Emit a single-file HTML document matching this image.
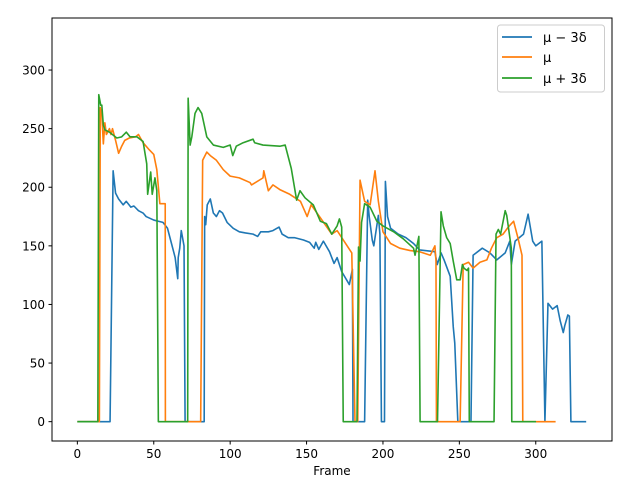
<!DOCTYPE html>
<html><head><meta charset="utf-8"><style>
body{margin:0;background:#fff;}
svg{display:block;font-family:"DejaVu Sans","Liberation Sans",sans-serif;}
</style></head><body>
<svg id="chart" width="640" height="480" viewBox="0 0 640 480">
<rect x="0" y="0" width="640" height="480" fill="#fff"/>
<g id="series"></g>
<rect x="52" y="18" width="560" height="423" fill="none" stroke="#000" stroke-width="1"/>
<g id="axes"></g>
<text x="332" y="475" font-size="12" text-anchor="middle">Frame</text>
<g>
<rect x="497.5" y="25" width="107" height="67" rx="3" fill="#fff" stroke="#ccc"/>
<line x1="502" y1="37" x2="532" y2="37" stroke="#1f77b4" stroke-width="1.7"/>
<text x="543" y="42" font-size="13">μ − 3δ</text>
<line x1="502" y1="57" x2="532" y2="57" stroke="#ff7f0e" stroke-width="1.7"/>
<text x="543" y="62" font-size="13">μ</text>
<line x1="502" y1="78" x2="532" y2="78" stroke="#2ca02c" stroke-width="1.7"/>
<text x="543" y="83" font-size="13">μ + 3δ</text>
</g>
</svg>
<script>
const xTicks=[0,50,100,150,200,250,300];
const yTicks=[0,50,100,150,200,250,300];
const lowerFrames=[0,21.4,23.4,25,27,30,32,35,37,40,43,45,50,53,56,59,61,63,64,65.7,66,67,68,69.8,70.5,83,83.3,84,85,87,89,91,93,95,98,102,106,110,115,118,120,125,128,132,134,138,142,148,152,155,156,158,161,165,168,170,173,178,180,180.4,188,190,191,193,194,197,198,199,201,201.6,203,205,210,215,220,224,234,235.5,238,240,244,246,247,249,257.6,259,265,270,274.5,280,283,284,286.5,292,295,298,300,304,306,308,311,314,316,318,319,321,322,323,333];
const lowerValues=[0,0,214,195,190,185,188,183,184,180,178,175,172,171,170,165,155,145,140,122,140,148,163,150,0,0,175,168,185,190,178,175,180,178,170,165,162,161,160,158,162,162,163,166,160,157,157,155,153,148,153,147,154,145,135,140,128,117,130,0,0,189,175,155,150,176,160,0,0,205,175,165,160,157,152,146.5,145,134,144,138,124,81,67,0,0,142,148,144,138,144,154,134,154,160,177,154,150,154,0,101,96,99,86,76,82,91,90,0,0];
const meanFrames=[0,14.4,15,16,17,18,19,21,22,23,25,27,29,31,34,38,40,43,47,50,52,54,57.5,57.6,80.7,82,84.7,87,91,95.5,100,106,113,114,121.5,122,125,128,132.5,139,146,150.4,153,159,166.5,170,179.6,181.7,183.5,185,188,191.6,194.8,197,200,205,211,217.8,224,231,234,234.7,235,250.5,252.5,256,259,263.5,268,271,274.5,278.6,282,285.5,288.5,291,291.5,313];
const meanValues=[0,0,268,262,237,255,245,250,245,250,240,229,235,240,242,243,245,238,232,228,215,186,186,0,0,223,230,227,223,215,209.5,208,204,202,208,214,197,202,198,194,188,175,185,174,160,163,144,0,0,206,188,185,214,188,162,152,148,146,145,142,150,137,0,0,134,136,131,136,138,148,157,160,166,171,156,142,0,0];
const upperFrames=[0,13.4,14,15.3,16,17,18,21,25.8,29,32,34.5,39,43,45.4,46,48,49,50.8,52,53,72.2,72.5,73.8,74.9,77,79,81.4,84.7,89,95.5,100,101.7,104,108.5,115,116,121.5,132.5,136,140,143.5,145.7,149,154.4,159,163,166.5,170,171.5,173,174,183,184,185,186,188,191.6,196,200,207,213.3,220,221,223.5,224.3,235.7,238,239.5,241.7,244,246,248.3,250.5,252,253,255,256,256.5,272.7,274,275.5,277,280,281,282.3,284,284.3,300.2];
const upperValues=[0,0,279,270,270,253,249,247,242,243,247,243,243,239,220,194,213,194,208,197,0,0,276,236,243,263,268,263,243,236,234,236,227,235,238,241,238,236,235,236,216,189,197,191,185,171,169,160,167,173,166,0,0,149,137,170,186,183,171,167,162,156,148,142,158,0,0,179,167,157,152,137,121,121,134,131,129,131,0,0,160,164,160,180,176,164,148,0,0];

const X0=52,X1=612,Y0=441,Y1=18;
const xMin=-16.6,xMax=349.9,yMin=-16.5,yMax=344.4;
function sx(v){return X0+(v-xMin)/(xMax-xMin)*(X1-X0);}
function sy(v){return Y0-(v-yMin)/(yMax-yMin)*(Y0-Y1);}
const NS="http://www.w3.org/2000/svg";
const axes=document.getElementById('axes');
xTicks.forEach(t=>{
  const l=document.createElementNS(NS,'line');
  l.setAttribute('x1',sx(t));l.setAttribute('x2',sx(t));l.setAttribute('y1',Y0);l.setAttribute('y2',Y0+3.5);
  l.setAttribute('stroke','#000');
  
  
  axes.appendChild(l);
  const tx=document.createElementNS(NS,'text');
  tx.setAttribute('x',sx(t));tx.setAttribute('y',Y0+17);tx.setAttribute('font-size','12');tx.setAttribute('text-anchor','middle');
  tx.textContent=t;
  
  
  axes.appendChild(tx);
});
yTicks.forEach(t=>{
  const l=document.createElementNS(NS,'line');
  l.setAttribute('x1',X0-3.5);l.setAttribute('x2',X0);l.setAttribute('y1',sy(t));l.setAttribute('y2',sy(t));
  l.setAttribute('stroke','#000');
  
  
  axes.appendChild(l);
  const tx=document.createElementNS(NS,'text');
  tx.setAttribute('x',X0-7);tx.setAttribute('y',sy(t)+4.5);tx.setAttribute('font-size','12');tx.setAttribute('text-anchor','end');
  tx.textContent=t;
  
  
  axes.appendChild(tx);
});
const g=document.getElementById('series');
function draw(fr,vals,color,name){
  const p=document.createElementNS(NS,'polyline');
  p.setAttribute('points',fr.map((f,i)=>sx(f).toFixed(2)+','+sy(vals[i]).toFixed(2)).join(' '));
  p.setAttribute('fill','none');p.setAttribute('stroke',color);p.setAttribute('stroke-width','1.6');p.setAttribute('stroke-linejoin','round');
  
  
  g.appendChild(p);
}
draw(lowerFrames,lowerValues,'#1f77b4','series-mu-minus-3delta');
draw(meanFrames,meanValues,'#ff7f0e','series-mu');
draw(upperFrames,upperValues,'#2ca02c','series-mu-plus-3delta');
</script>
</body></html>
